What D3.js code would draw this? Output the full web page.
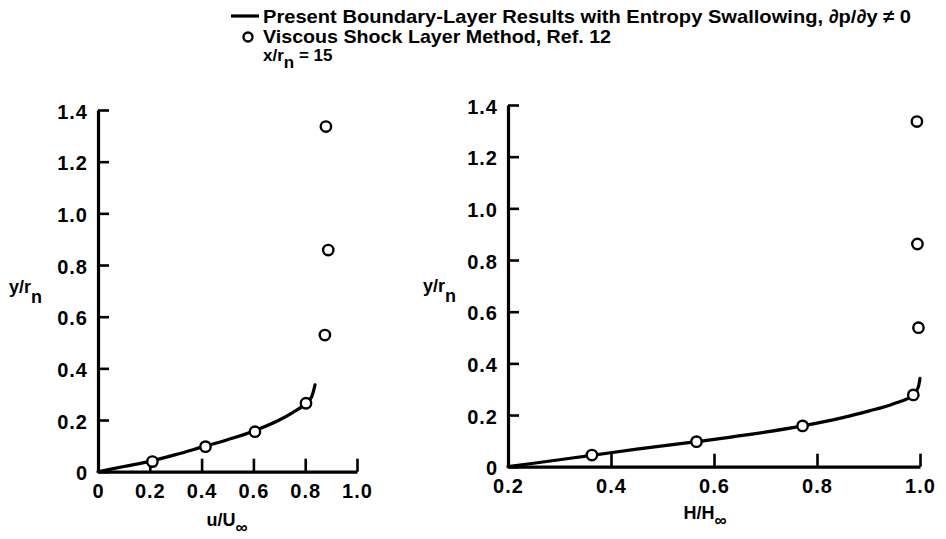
<!DOCTYPE html>
<html>
<head>
<meta charset="utf-8">
<script src="https://cdn.jsdelivr.net/npm/d3@7"></script>
<style>
  html, body { margin: 0; padding: 0; background: #fff; }
  svg text { font-family: 'Liberation Sans', Arial, sans-serif; font-weight: bold; fill: #000; }
</style>
</head>
<body>
<svg id="chart" width="946" height="539"></svg>
<script>
// Velocity profile u/U∞ vs y/r_n
const leftLineU = [0, 0.1, 0.2, 0.3, 0.4, 0.5, 0.6, 0.7, 0.75, 0.8, 0.825, 0.838];
const leftLineY = [0, 0.02, 0.04, 0.066, 0.095, 0.124, 0.157, 0.2, 0.228, 0.262, 0.29, 0.336];
const leftCircU = [0.21, 0.415, 0.606, 0.803, 0.876, 0.889, 0.880];
const leftCircY = [0.039, 0.097, 0.155, 0.265, 0.529, 0.858, 1.336];

// Total enthalpy profile H/H∞ vs y/r_n
const rightLineH = [0.2, 0.3, 0.363, 0.45, 0.566, 0.663, 0.772, 0.85, 0.9, 0.95, 0.987, 0.997, 1.0];
const rightLineY = [0, 0.027, 0.044, 0.068, 0.097, 0.123, 0.158, 0.19, 0.215, 0.245, 0.278, 0.31, 0.342];
const rightCircH = [0.363, 0.566, 0.772, 0.987, 0.997, 0.995, 0.994];
const rightCircY = [0.045, 0.097, 0.158, 0.278, 0.538, 0.862, 1.336];

// Tick values and labels
const yTicks = [0, 0.2, 0.4, 0.6, 0.8, 1.0, 1.2, 1.4];
const yTickLabels = ["0", "0.2", "0.4", "0.6", "0.8", "1.0", "1.2", "1.4"];
const leftXTicks = [0, 0.2, 0.4, 0.6, 0.8, 1.0];
const leftXTickLabels = ["0", "0.2", "0.4", "0.6", "0.8", "1.0"];
const rightXTicks = [0.2, 0.4, 0.6, 0.8, 1.0];
const rightXTickLabels = ["0.2", "0.4", "0.6", "0.8", "1.0"];

const legendLine = "Present Boundary-Layer Results with Entropy Swallowing, \u2202p/\u2202y \u2260 0";
const legendCircle = "Viscous Shock Layer Method, Ref. 12";

const svg = d3.select("#chart");

function drawPanel(cfg) {
  const x = d3.scaleLinear().domain(cfg.xDomain).range(cfg.xRange);
  const y = d3.scaleLinear().domain([0, 1.4]).range(cfg.yRange);
  const g = svg.append("g");

  const xAxis = d3.axisBottom(x)
    .tickValues(cfg.xTicks)
    .tickFormat((d, i) => cfg.xTickLabels[i])
    .tickSizeInner(-13).tickSizeOuter(0).tickPadding(12);
  const yAxis = d3.axisLeft(y)
    .tickValues(yTicks)
    .tickFormat((d, i) => yTickLabels[i])
    .tickSizeInner(-11).tickSizeOuter(0).tickPadding(10);

  const gx = g.append("g").attr("transform", `translate(0,${cfg.yRange[0]})`).call(xAxis);
  const gy = g.append("g").attr("transform", `translate(${cfg.xRange[0]},0)`).call(yAxis);
  [gx, gy].forEach(a => {
    a.select(".domain").attr("stroke", "#000").attr("stroke-width", 3.2);
    a.selectAll(".tick line").attr("stroke", "#000").attr("stroke-width", 2.6);
    a.selectAll(".tick text").style("font-size", "20px").style("letter-spacing", "1px").attr("fill", "#000");
  });
  gy.selectAll(".tick text").attr("dy", "0.4em");

  const line = d3.line().x(d => x(d[0])).y(d => y(d[1])).curve(d3.curveMonotoneX);
  g.append("path")
    .datum(cfg.lineX.map((v, i) => [v, cfg.lineY[i]]))
    .attr("d", line)
    .attr("fill", "none").attr("stroke", "#000").attr("stroke-width", 3.2)
    .attr("stroke-linecap", "round");

  g.selectAll("circle.pt")
    .data(cfg.circX.map((v, i) => [v, cfg.circY[i]]))
    .join("circle").attr("class", "pt")
    .attr("cx", d => x(d[0])).attr("cy", d => y(d[1])).attr("r", 5.2)
    .attr("fill", "#fff").attr("stroke", "#000").attr("stroke-width", 2.4);

  // y axis title
  const yt = g.append("text").attr("x", cfg.yTitleX).attr("y", cfg.yTitleY).style("font-size", "18px");
  yt.append("tspan").text("y/r");
  yt.append("tspan").attr("dy", 10).text("n");

  // x axis title
  const xt = g.append("text").attr("x", cfg.xTitleX).attr("y", cfg.xTitleY)
    .attr("text-anchor", "middle").style("font-size", "18px");
  xt.append("tspan").text(cfg.xTitle);
  xt.append("tspan").attr("dy", 7).style("font-size", "17px").text("\u221e");
}

drawPanel({
  xDomain: [0, 1], xRange: [98, 357], yRange: [471.7, 110],
  xTicks: leftXTicks, xTickLabels: leftXTickLabels,
  lineX: leftLineU, lineY: leftLineY, circX: leftCircU, circY: leftCircY,
  yTitleX: 9, yTitleY: 293, xTitleX: 227, xTitleY: 526, xTitle: "u/U"
});

drawPanel({
  xDomain: [0.2, 1], xRange: [508, 920], yRange: [466.7, 105],
  xTicks: rightXTicks, xTickLabels: rightXTickLabels,
  lineX: rightLineH, lineY: rightLineY, circX: rightCircH, circY: rightCircY,
  yTitleX: 423, yTitleY: 292, xTitleX: 705, xTitleY: 519, xTitle: "H/H"
});

// Legend
const lg = svg.append("g");
lg.append("line").attr("x1", 231).attr("x2", 259).attr("y1", 16).attr("y2", 16)
  .attr("stroke", "#000").attr("stroke-width", 3.2);
lg.append("text").attr("x", 263).attr("y", 23).style("font-size", "19px")
  .attr("textLength", 648).attr("lengthAdjust", "spacingAndGlyphs").text(legendLine);
lg.append("circle").attr("cx", 248).attr("cy", 37).attr("r", 4.5)
  .attr("fill", "#fff").attr("stroke", "#000").attr("stroke-width", 2.4);
lg.append("text").attr("x", 263).attr("y", 43).style("font-size", "19px")
  .attr("textLength", 348).attr("lengthAdjust", "spacingAndGlyphs").text(legendCircle);
const cond = lg.append("text").attr("x", 263).attr("y", 61).style("font-size", "17px");
cond.append("tspan").text("x/r");
cond.append("tspan").attr("dy", 7).text("n");
cond.append("tspan").attr("dy", -7).text(" = 15");
</script>
</body>
</html>
